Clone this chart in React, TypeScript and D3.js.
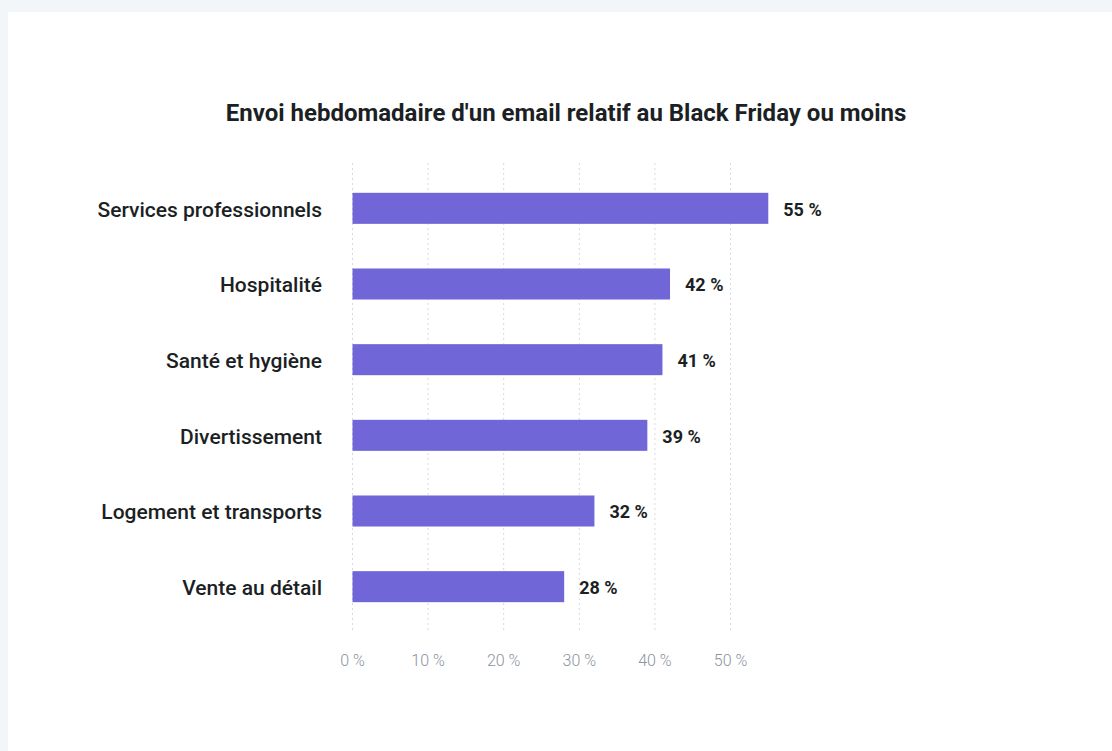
import React from "react";
import * as d3 from "d3";

const categories = [
  "Services professionnels",
  "Hospitalité",
  "Santé et hygiène",
  "Divertissement",
  "Logement et transports",
  "Vente au détail",
];
const values = [55, 42, 41, 39, 32, 28];
const ticks = [0, 10, 20, 30, 40, 50];
const title = "Envoi hebdomadaire d'un email relatif au Black Friday ou moins";

const W = 1112;
const H = 751;

export default function App() {
  const x = d3.scaleLinear().domain([0, 10]).range([352.5, 428.1]);
  const y = d3
    .scaleBand<string>()
    .domain(categories)
    .range([170.5, 624.5])
    .paddingInner(0.59)
    .paddingOuter(0.295);
  const bw = y.bandwidth();

  return (
    <div style={{ position: "fixed", left: 0, top: 0, width: W, height: H, background: "#f3f6f9" }}>
      <svg width={W} height={H} style={{ display: "block", fontFamily: "Roboto, sans-serif" }}>
        <rect x={8} y={12} width={W - 8} height={H - 12} fill="#ffffff" />
        <text x={566} y={121} textAnchor="middle" fontSize={24} fontWeight={700} fill="#1c1f24">
          {title}
        </text>
        {ticks.map((t) => (
          <g key={t}>
            <line
              x1={x(t)}
              x2={x(t)}
              y1={163}
              y2={632}
              stroke="#d6d9dd"
              strokeWidth={1}
              strokeDasharray="2,3"
            />
            <text x={x(t)} y={666} textAnchor="middle" fontSize={16} fontWeight={300} fill="#8b939e">
              {`${t} %`}
            </text>
          </g>
        ))}
        {categories.map((c, i) => {
          const yy = y(c) as number;
          return (
            <g key={c}>
              <rect x={x(0)} y={yy} width={x(values[i]) - x(0)} height={bw} fill="#7066d8" />
              <text
                x={322}
                y={yy + bw / 2 + 1}
                dy="0.35em"
                textAnchor="end"
                fontSize={21}
                fontWeight={500}
                fill="#1c1f24"
              >
                {c}
              </text>
              <text
                x={x(values[i]) + 15}
                y={yy + bw / 2 + 1}
                dy="0.35em"
                fontSize={18}
                fontWeight={700}
                fill="#1c1f24"
              >
                {`${values[i]} %`}
              </text>
            </g>
          );
        })}
      </svg>
    </div>
  );
}
